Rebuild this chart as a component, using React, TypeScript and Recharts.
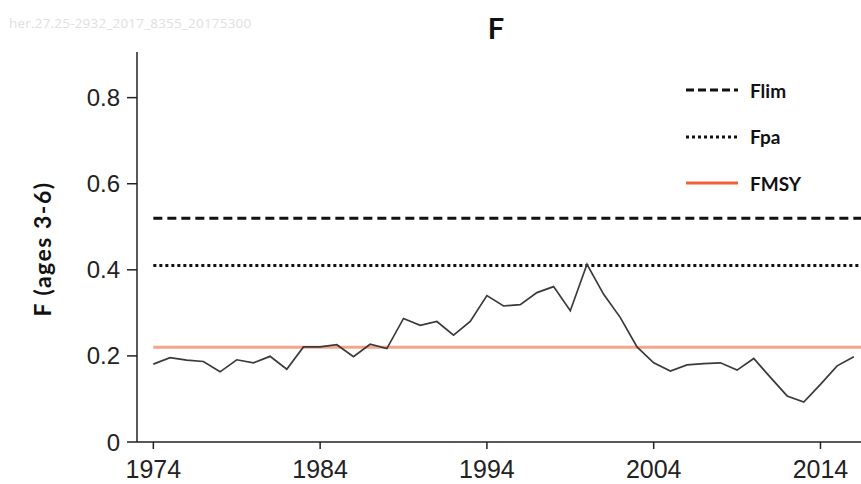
import React from "react";
import { ComposedChart, Line, XAxis, YAxis, ReferenceLine } from "recharts";

const years = [
  1974, 1975, 1976, 1977, 1978, 1979, 1980, 1981, 1982, 1983, 1984, 1985, 1986, 1987, 1988,
  1989, 1990, 1991, 1992, 1993, 1994, 1995, 1996, 1997, 1998, 1999, 2000, 2001, 2002, 2003,
  2004, 2005, 2006, 2007, 2008, 2009, 2010, 2011, 2012, 2013, 2014, 2015, 2016,
];
const fValues = [
  0.181, 0.196, 0.19, 0.187, 0.163, 0.191, 0.184, 0.199, 0.169, 0.221, 0.221, 0.226, 0.198,
  0.227, 0.217, 0.287, 0.271, 0.28, 0.248, 0.28, 0.34, 0.316, 0.319, 0.347, 0.361, 0.305,
  0.413, 0.343, 0.289, 0.221, 0.184, 0.165, 0.179, 0.182, 0.184, 0.167, 0.194, 0.15, 0.107,
  0.093, 0.134, 0.177, 0.198,
];
const FLIM = 0.52;
const FPA = 0.41;
const FMSY = 0.22;
const xTicks = [1974, 1984, 1994, 2004, 2014];
const yTicks = [0, 0.2, 0.4, 0.6, 0.8];
const X_DOMAIN: [number, number] = [1973.02, 2016.43];
const Y_DOMAIN: [number, number] = [0, 0.906];
const TITLE = "F";
const Y_LABEL = "F (ages 3-6)";
const WATERMARK = "her.27.25-2932_2017_8355_20175300";

const data = years.map((y, i) => ({ year: y, F: fValues[i] }));

const legendItems = [
  { name: "Flim", color: "#111", dash: "8 4", width: 3 },
  { name: "Fpa", color: "#111", dash: "3 3", width: 3 },
  { name: "FMSY", color: "#F06233", dash: undefined, width: 3 },
];

const boldFont = "Lato, 'Open Sans', sans-serif";
const tickFont = "'Liberation Sans', Arial, sans-serif";

export default function App() {
  return (
    <div style={{ position: "absolute", left: 0, top: 0, width: 861, height: 484, background: "#fff" }}>
      <div
        style={{
          position: "absolute",
          left: 9,
          top: 14,
          fontFamily: "'Open Sans', sans-serif",
          fontSize: 13.5,
          color: "#e0e0e0",
          whiteSpace: "nowrap",
          letterSpacing: 0.2,
        }}
      >
        {WATERMARK}
      </div>
      <div
        style={{
          position: "absolute",
          left: 446,
          width: 100,
          top: 11,
          textAlign: "center",
          fontFamily: boldFont,
          fontWeight: 700,
          fontSize: 29,
          color: "#111",
          lineHeight: "34px",
        }}
      >
        {TITLE}
      </div>
      <div
        style={{
          position: "absolute",
          left: 42,
          top: 249,
          transform: "translate(-50%, -50%) rotate(-90deg)",
          fontFamily: boldFont,
          fontWeight: 700,
          fontSize: 23,
          letterSpacing: 1.5,
          color: "#111",
          whiteSpace: "nowrap",
        }}
      >
        {Y_LABEL}
      </div>
      <ComposedChart
        width={861}
        height={484}
        data={data}
        margin={{ top: 52, right: 0, bottom: 0, left: 0 }}
      >
        <XAxis
          dataKey="year"
          type="number"
          domain={X_DOMAIN}
          allowDataOverflow
          ticks={xTicks}
          height={42}
          tickSize={7}
          tickMargin={11}
          axisLine={{ stroke: "#222", strokeWidth: 1.5 }}
          tickLine={{ stroke: "#222", strokeWidth: 1.5 }}
          tick={{ fill: "#222", fontSize: 25, fontFamily: tickFont }}
        />
        <XAxis
          xAxisId="top"
          orientation="top"
          dataKey="year"
          type="number"
          domain={X_DOMAIN}
          allowDataOverflow
          height={0}
          tick={false}
          tickLine={false}
          axisLine={{ stroke: "#222", strokeWidth: 1.5 }}
        />
        <YAxis
          type="number"
          domain={Y_DOMAIN}
          allowDataOverflow
          ticks={yTicks}
          width={137}
          tickSize={10}
          tickMargin={7}
          tickFormatter={(v: number) => (v === 0 ? "0" : v.toFixed(1))}
          axisLine={{ stroke: "#222", strokeWidth: 1.5 }}
          tickLine={{ stroke: "#222", strokeWidth: 1.5 }}
          tick={{ fill: "#222", fontSize: 24, fontFamily: tickFont }}
        />
        <ReferenceLine
          segment={[
            { x: years[0], y: FMSY },
            { x: X_DOMAIN[1], y: FMSY },
          ]}
          stroke="#F4A58A"
          strokeWidth={3}
          ifOverflow="hidden"
        />
        <ReferenceLine
          segment={[
            { x: years[0], y: FLIM },
            { x: X_DOMAIN[1], y: FLIM },
          ]}
          stroke="#111"
          strokeWidth={3}
          strokeDasharray="9 5"
          ifOverflow="hidden"
        />
        <ReferenceLine
          segment={[
            { x: years[0], y: FPA },
            { x: X_DOMAIN[1], y: FPA },
          ]}
          stroke="#111"
          strokeWidth={3}
          strokeDasharray="3 3"
          ifOverflow="hidden"
        />
        <Line
          dataKey="F"
          stroke="#3a3a3a"
          strokeWidth={1.7}
          dot={false}
          isAnimationActive={false}
        />
      </ComposedChart>
      <div style={{ position: "absolute", left: 686, top: 78 }}>
        {legendItems.map((it, i) => (
          <div
            key={it.name}
            style={{ position: "absolute", left: 0, top: i * 46.5, display: "flex", alignItems: "center", height: 24 }}
          >
            <svg width={52} height={6} style={{ display: "block" }}>
              <line
                x1={0}
                y1={3}
                x2={52}
                y2={3}
                stroke={it.color}
                strokeWidth={it.width}
                strokeDasharray={it.dash}
              />
            </svg>
            <span
              style={{
                marginLeft: 12,
                fontFamily: boldFont,
                fontWeight: 700,
                fontSize: 19,
                color: "#111",
                whiteSpace: "nowrap",
              }}
            >
              {it.name}
            </span>
          </div>
        ))}
      </div>
    </div>
  );
}
